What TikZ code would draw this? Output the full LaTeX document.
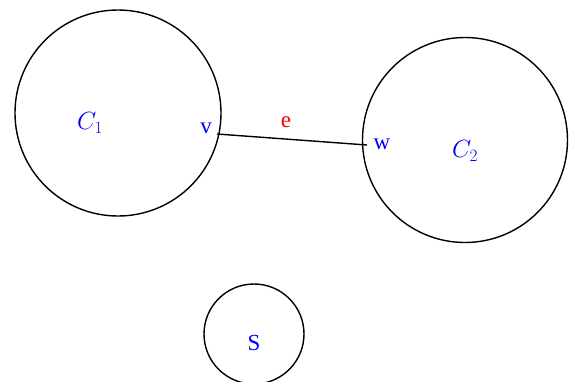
\documentclass[tikz,border=0pt]{standalone}
\usepackage{fontspec}
\newfontfamily\lblfont{Liberation Serif}
\usepackage{tikz}
\begin{document}
\begin{tikzpicture}[x=1pt,y=-1pt,
  circ/.style={draw,circle,line width=1.4pt,inner sep=0pt},
  lbl/.style={text=blue,font=\fontsize{24}{28}\selectfont,inner sep=0pt},
  txtlbl/.style={text=blue,font=\lblfont\fontsize{23}{27}\selectfont,inner sep=0pt},
  edgelbl/.style={text=red,font=\lblfont\fontsize{23}{27}\selectfont,inner sep=0pt}]
\useasboundingbox (0,0) rectangle (571,381);
\node[circ,minimum size=206pt] (c1) at (118,113) {};
\node[circ,minimum size=205pt] (c2) at (465,140) {};
\node[circ,minimum size=100pt] (s) at (254,334) {};
\node[lbl] (c1l) at (90,123) {$C_1$};
\node[lbl] (c2l) at (465,151) {$C_2$};
\node[txtlbl] (sl) at (254,343) {S};
\coordinate (pv) at (217,134);
\coordinate (pw) at (367,145);
\node[txtlbl] (vl) at (206,128) {v};
\node[txtlbl] (wl) at (382,144) {w};
\draw[line width=1.4pt] (pv) -- (pw);
\node[edgelbl] (el) at (286,122) {e};
\end{tikzpicture}
\end{document}
